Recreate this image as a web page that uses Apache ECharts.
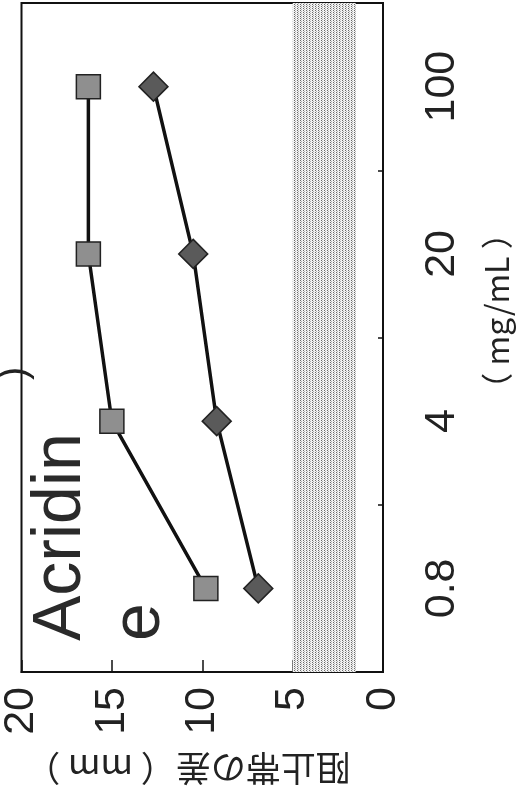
<!DOCTYPE html>
<html><head><meta charset="utf-8">
<script src="https://cdn.jsdelivr.net/npm/echarts@6/dist/echarts.min.js"></script>
<style>html,body{margin:0;padding:0;background:#fff}#c{width:516px;height:798px}</style>
</head><body><div id="c"></div>
<script>
// Data
const categories = ['0.8', '4', '20', '100'];           // mg/mL, bottom to top
const squareSeries = [9.8, 15.0, 16.3, 16.3];          // 阻止帯の差 (mm)
const diamondSeries = [6.9, 9.2, 10.5, 12.7];
const bandRange = [1.5, 5];                             // shaded band
const valueTicks = [0, 5, 10, 15, 20];
const labelText = 'Acridin\ne';
const valueAxisTitle = '阻止帯の差（ mm ）';
const categoryAxisTitle = '（ mg/mL ）';

// dotted pattern for band
const pc = document.createElement('canvas');
pc.width = 3; pc.height = 2;
const pctx = pc.getContext('2d');
pctx.fillStyle = '#f2f2f2'; pctx.fillRect(0, 0, 3, 2);
pctx.fillStyle = '#6a6a6a'; pctx.fillRect(0, 0, 1, 1);
pctx.fillStyle = '#b0b0b0'; pctx.fillRect(1, 1, 1, 1);

const chart = echarts.init(document.getElementById('c'), null, {renderer: 'canvas'});
const font = 'Liberation Sans, Arial, sans-serif';
chart.setOption({
  animation: false,
  backgroundColor: '#fff',
  grid: {left: 17, right: 133, top: 3, bottom: 126, show: true, borderColor: '#111', borderWidth: 2, containLabel: false},
  xAxis: {
    type: 'value', min: valueTicks[0], max: valueTicks[valueTicks.length - 1], interval: 5, inverse: true,
    position: 'bottom',
    axisLine: {show: true, lineStyle: {color: '#111', width: 2}},
    axisTick: {show: true, inside: true, length: 12, lineStyle: {color: '#111', width: 1.5}},
    splitLine: {show: false},
    axisLabel: {rotate: 90, fontSize: 43, fontFamily: font, color: '#222', margin: 15}
  },
  yAxis: {
    type: 'category', data: categories, position: 'right', boundaryGap: true,
    axisLine: {show: true, lineStyle: {color: '#111', width: 2}},
    axisTick: {show: true, inside: true, length: 5, lineStyle: {color: '#111', width: 1.5}},
    splitLine: {show: false},
    axisLabel: {rotate: 90, fontSize: 43, fontFamily: font, color: '#222', margin: 38}
  },
  series: [
    {
      type: 'line', data: squareSeries, symbol: 'rect', symbolSize: 24,
      lineStyle: {color: '#111', width: 3.5},
      itemStyle: {color: '#8f8f8f', borderColor: '#222', borderWidth: 1.5},
      z: 3,
      markArea: {
        silent: true,
        itemStyle: {color: {image: pc, repeat: 'repeat'}},
        data: [[{xAxis: bandRange[0]}, {xAxis: bandRange[1]}]]
      }
    },
    {
      type: 'line', data: diamondSeries, symbol: 'diamond', symbolSize: 29,
      lineStyle: {color: '#111', width: 3.5},
      itemStyle: {color: '#5a5a5a', borderColor: '#222', borderWidth: 1.5},
      z: 3
    }
  ],
  graphic: [
    {type: 'text', x: 22, y: 641, rotation: Math.PI / 2, z: 10,
     style: {text: labelText, fontSize: 68, fontFamily: font, fill: '#2a2a2a', align: 'left', verticalAlign: 'top', lineHeight: 79}},
    {type: 'text', x: -5, y: 380, rotation: Math.PI / 2, z: 10,
     style: {text: ')', fontSize: 40, fontFamily: font, fill: '#222', align: 'left', verticalAlign: 'top'}},
    {type: 'text', x: 188, y: 768, rotation: Math.PI, z: 10,
     style: {text: valueAxisTitle, fontSize: 35, fontFamily: 'Noto Sans CJK JP', fill: '#222', align: 'center', verticalAlign: 'middle'}},
    {type: 'text', x: 497, y: 311, rotation: Math.PI / 2, z: 10,
     style: {text: categoryAxisTitle, fontSize: 32, fontFamily: 'Noto Sans CJK JP', fill: '#222', align: 'center', verticalAlign: 'middle'}}
  ]
});
</script></body></html>
